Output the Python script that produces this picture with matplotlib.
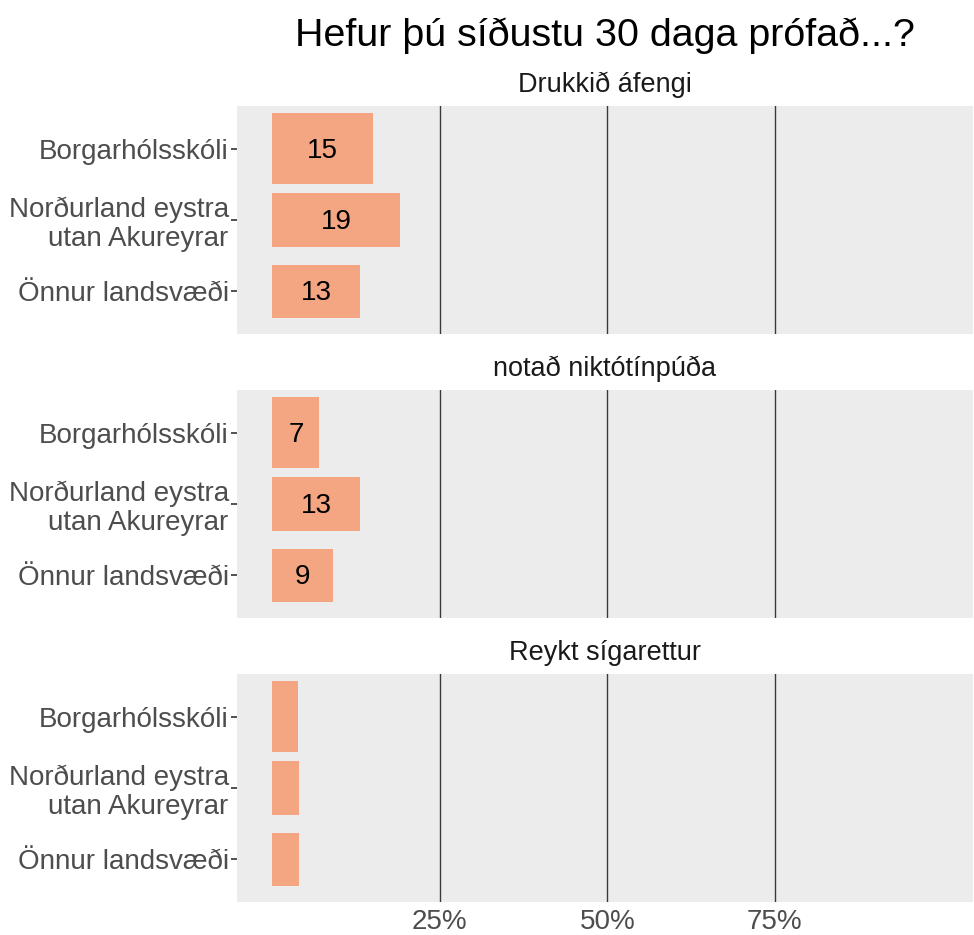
import numpy as np
import matplotlib
matplotlib.use('Agg')
import matplotlib.pyplot as plt

plt.rcParams['font.family'] = ['Liberation Sans', 'DejaVu Sans']

title = "Hefur þú síðustu 30 daga prófað...?"
regions = ["Borgarhólsskóli", "Norðurland eystra\nutan Akureyrar", "Önnur landsvæði"]
panels = ["Drukkið áfengi", "notað niktótínpúða", "Reykt sígarettur"]
# percent of students, one list per panel
alcohol = [15, 19, 13]
nicotine_pouch = [7, 13, 9]
cigarettes = [3.8, 3.9, 3.9]
values = [alcohol, nicotine_pouch, cigarettes]
x_ticks = [0.25, 0.50, 0.75]
x_tick_labels = ["25%", "50%", "75%"]

W, H = 974, 935
fig = plt.figure(figsize=(W / 100, H / 100), dpi=100)

bar_color = '#F4A582'
panel_bg = '#ECECEC'
bar_heights = [1.0, 0.75, 0.75]

left, right = 237, 973
panel_tops = [106, 390, 674]
panel_h = 228

for i, (name, vals) in enumerate(zip(panels, values)):
    top = panel_tops[i]
    ax = fig.add_axes([left / W, 1 - (top + panel_h) / H, (right - left) / W, panel_h / H])
    ax.set_facecolor(panel_bg)
    for s in ax.spines.values():
        s.set_visible(False)

    frac = np.array(vals) / 100
    ypos = np.arange(len(regions))
    for xv in x_ticks:
        ax.axvline(xv, color='#3a3a3a', lw=1.0, zorder=1)
    ax.barh(ypos, frac, height=bar_heights, color=bar_color, zorder=2)
    # value labels only on bars wide enough to hold them
    for y, v in zip(ypos, vals):
        if v >= 5:
            ax.text(v / 200, y + 0.03, f"{v:g}", ha='center', va='center', fontsize=20,
                    color='black', zorder=3)

    ax.set_xlim(-0.053, 1.046)
    ax.set_ylim(2.6, -0.6)
    ax.set_yticks(ypos)
    ax.set_yticklabels(regions, fontsize=20, color='#4D4D4D', linespacing=1.12)
    ax.tick_params(axis='y', length=4, width=1.2, color='#333333', pad=2)
    ax.grid(False)
    if i == len(panels) - 1:
        ax.set_xticks(x_ticks)
        ax.set_xticklabels(x_tick_labels, fontsize=20, color='#4D4D4D')
        ax.tick_params(axis='x', length=0, pad=5)
    else:
        ax.set_xticks([])

    fig.text((left + right) / 2 / W, 1 - (top - 21) / H, name, ha='center', va='center',
             fontsize=19.5, color='#1a1a1a')

fig.text((left + right) / 2 / W, 1 - 36 / H, title, ha='center', va='center', fontsize=28.4, color='black')

fig.savefig('out.png', dpi=100, facecolor='white')
